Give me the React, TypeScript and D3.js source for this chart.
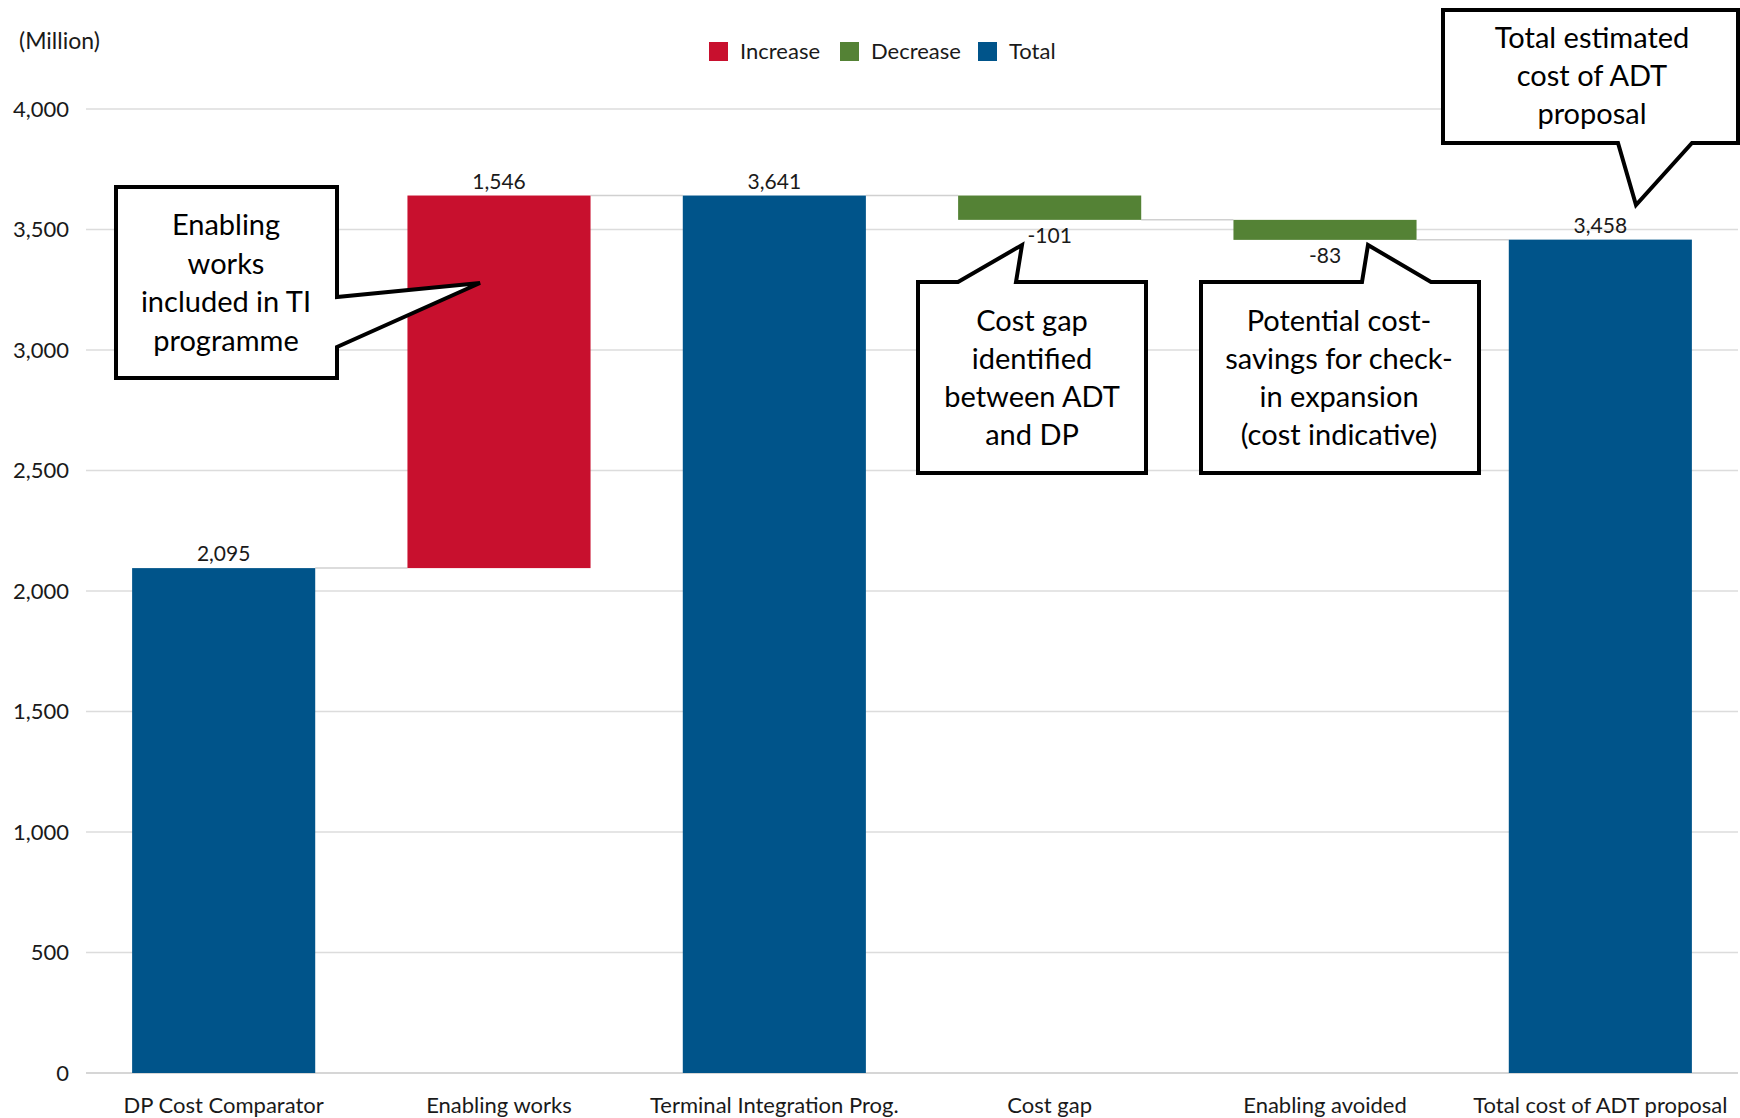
import React from "react";
import * as d3 from "d3";

const categories = [
  "DP Cost Comparator",
  "Enabling works",
  "Terminal Integration Prog.",
  "Cost gap",
  "Enabling avoided",
  "Total cost of ADT proposal",
];
const values = [2095, 1546, 3641, -101, -83, 3458];
const kinds = ["total", "increase", "total", "decrease", "decrease", "total"];
const yTicks = [0, 500, 1000, 1500, 2000, 2500, 3000, 3500, 4000];
const legendItems = [
  { key: "increase", label: "Increase" },
  { key: "decrease", label: "Decrease" },
  { key: "total", label: "Total" },
];
const callout1 = ["Enabling", "works", "included in TI", "programme"];
const callout2 = ["Cost gap", "identified", "between ADT", "and DP"];
const callout3 = ["Potential cost-", "savings for check-", "in expansion", "(cost indicative)"];
const callout4 = ["Total estimated", "cost of ADT", "proposal"];

const COLORS: Record<string, string> = {
  increase: "#C8102E",
  decrease: "#548235",
  total: "#00548A",
};

const W = 1740;
const H = 1118;
const FONT = "Lato, 'Open Sans', sans-serif";

export default function App() {
  const x = d3
    .scaleBand<string>()
    .domain(categories)
    .range([86, 1738])
    .paddingInner(0.335)
    .paddingOuter(0.1675);
  const y = d3.scaleLinear().domain([0, 4000]).range([1073, 109]);

  let running = 0;
  const bars = categories.map((c, i) => {
    const v = values[i];
    const k = kinds[i];
    let start: number, end: number;
    if (k === "total") {
      start = 0;
      end = v;
    } else {
      start = running;
      end = running + v;
    }
    running = end;
    return { c, v, k, start, end, lo: Math.min(start, end), hi: Math.max(start, end) };
  });

  const fmt0 = d3.format(",");
  const fmt = (v: number) => fmt0(v).replace("\u2212", "-");
  const bw = x.bandwidth();

  const calloutText = (lines: string[], cx: number, firstBaseline: number, lh: number) =>
    lines.map((t, i) => (
      <text
        key={i}
        x={cx}
        y={firstBaseline + i * lh}
        textAnchor="middle"
        fontSize={29}
        fontFamily={FONT}
        fill="#000"
      >
        {t}
      </text>
    ));

  return (
    <svg
      width={W}
      height={H}
      style={{ position: "absolute", left: 0, top: 0, display: "block", background: "#fff" }}
    >
      <rect x={0} y={0} width={W} height={H} fill="#fff" />
      {/* gridlines */}
      {yTicks.map((t) => (
        <line
          key={t}
          x1={86}
          x2={1738}
          y1={y(t)}
          y2={y(t)}
          stroke={t === 0 ? "#c8c8c8" : "#dcdcdc"}
          strokeWidth={1.5}
        />
      ))}
      {/* tick labels */}
      {yTicks.map((t) => (
        <text
          key={"l" + t}
          x={69}
          y={y(t) + 7.5}
          textAnchor="end"
          fontSize={22}
          fontFamily={FONT}
          fill="#1a1a1a"
        >
          {fmt(t)}
        </text>
      ))}
      <text x={19} y={49} fontSize={23} fontFamily={FONT} fill="#1a1a1a">
        (Million)
      </text>

      {/* connectors */}
      {bars.slice(0, -1).map((b, i) => (
        <line
          key={"c" + i}
          x1={(x(b.c) as number) + bw}
          x2={x(categories[i + 1]) as number}
          y1={y(b.end)}
          y2={y(b.end)}
          stroke="#d0d0d0"
          strokeWidth={1.5}
        />
      ))}

      {/* bars */}
      {bars.map((b) => (
        <rect
          key={b.c}
          x={x(b.c)}
          y={y(b.hi)}
          width={bw}
          height={y(b.lo) - y(b.hi)}
          fill={COLORS[b.k]}
        />
      ))}

      {/* data labels */}
      {bars.map((b) => {
        const cx = (x(b.c) as number) + bw / 2;
        const yy = b.k === "decrease" ? y(b.lo) + 23 : y(b.hi) - 7;
        return (
          <text
            key={"d" + b.c}
            x={cx}
            y={yy}
            textAnchor="middle"
            fontSize={21}
            fontFamily={FONT}
            fill="#1a1a1a"
          >
            {fmt(b.v)}
          </text>
        );
      })}

      {/* category labels */}
      {categories.map((c) => (
        <text
          key={"x" + c}
          x={(x(c) as number) + bw / 2}
          y={1113}
          textAnchor="middle"
          fontSize={22}
          fontFamily={FONT}
          fill="#1a1a1a"
        >
          {c}
        </text>
      ))}

      {/* legend */}
      {legendItems.map((it, i) => {
        const lx = [709, 840, 978][i];
        return (
          <g key={it.key}>
            <rect x={lx} y={42} width={19} height={19} fill={COLORS[it.key]} />
            <text x={lx + 31} y={59} fontSize={22} fontFamily={FONT} fill="#1a1a1a">
              {it.label}
            </text>
          </g>
        );
      })}

      {/* callouts */}
      <g fill="#fff" stroke="#000" strokeWidth={4} strokeLinejoin="miter">
        <path d="M116,187 L337,187 L337,297 L480,283 L337,347 L337,378 L116,378 Z" />
        <path d="M918,282 L958,282 L1022,245 L1016,282 L1146,282 L1146,473 L918,473 Z" />
        <path d="M1201,282 L1362,282 L1368,245 L1431,282 L1479,282 L1479,473 L1201,473 Z" />
        <path d="M1443,10 L1738,10 L1738,143 L1692,143 L1636,205 L1618,143 L1443,143 Z" />
      </g>
      {calloutText(callout1, 226, 235, 38.5)}
      {calloutText(callout2, 1032, 331, 38)}
      {calloutText(callout3, 1339, 331, 38)}
      {calloutText(callout4, 1592, 48, 38)}
    </svg>
  );
}
